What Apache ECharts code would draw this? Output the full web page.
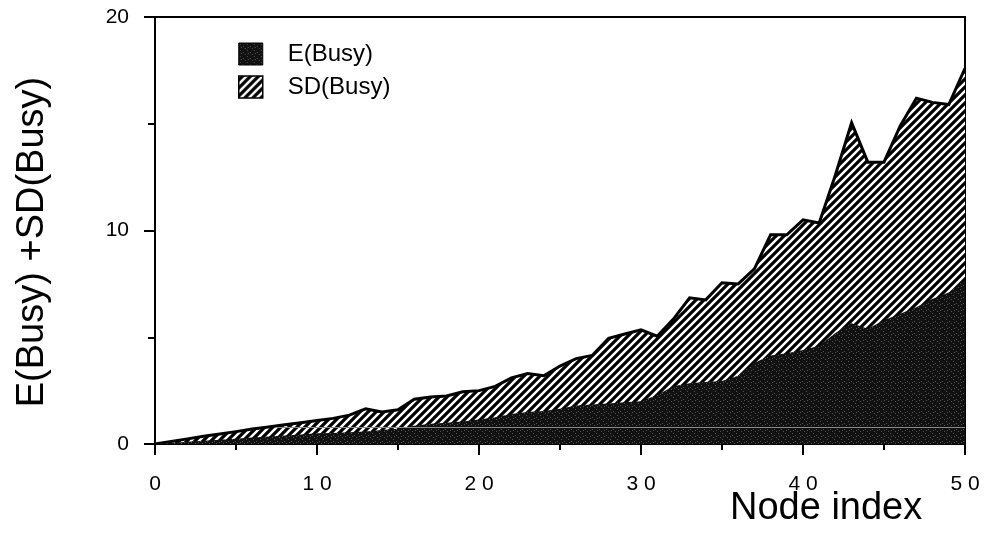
<!DOCTYPE html>
<html>
<head>
<meta charset="utf-8">
<script src="https://cdn.jsdelivr.net/npm/echarts@6/dist/echarts.min.js"></script>
<style>
  html, body { margin: 0; padding: 0; background: #fff; }
  #chart { width: 984px; height: 542px; }
</style>
</head>
<body>
<div id="chart"></div>
<script>
// ---- data ----
const nodeIndex = [0,1,2,3,4,5,6,7,8,9,10,11,12,13,14,15,16,17,18,19,20,21,22,23,24,25,26,27,28,29,30,31,32,33,34,35,36,37,38,39,40,41,42,43,44,45,46,47,48,49,50];
// E(Busy): top of the dark area
const eBusy = [0,0.05,0.10,0.15,0.20,0.25,0.30,0.35,0.40,0.45,0.50,0.52,0.55,0.58,0.65,0.72,0.85,0.95,1.00,1.05,1.15,1.25,1.40,1.50,1.55,1.65,1.80,1.85,1.90,1.95,2.00,2.30,2.70,2.85,2.90,2.95,3.20,3.80,4.15,4.25,4.40,4.60,5.20,5.65,5.40,5.80,6.10,6.40,6.80,7.10,7.70];
// E(Busy)+SD(Busy): top of the hatched area
const ePlusSdBusy = [0,0.12,0.24,0.36,0.47,0.58,0.70,0.80,0.90,1.00,1.10,1.20,1.35,1.65,1.50,1.60,2.10,2.20,2.25,2.45,2.50,2.70,3.10,3.30,3.20,3.65,4.00,4.15,4.95,5.15,5.35,5.05,5.85,6.85,6.75,7.55,7.50,8.20,9.80,9.80,10.50,10.35,12.60,15.05,13.20,13.20,14.90,16.20,16.00,15.90,17.60];
const seriesNames = ['E(Busy)', 'SD(Busy)'];
const xTicks = [0,10,20,30,40,50];
const yTicks = [0,10,20];
const faintLineLevel = 0.8;

// ---- fill patterns ----
function makeHatch() {
  const c = document.createElement('canvas');
  c.width = 8; c.height = 8;
  const g = c.getContext('2d');
  g.fillStyle = '#000'; g.fillRect(0,0,8,8);
  g.strokeStyle = '#fff'; g.lineWidth = 2.4; g.lineCap = 'butt';
  g.beginPath();
  g.moveTo(-2,10); g.lineTo(10,-2);
  g.moveTo(-2,2); g.lineTo(2,-2);
  g.moveTo(6,10); g.lineTo(10,6);
  g.stroke();
  return c;
}
function makeStipple() {
  const c = document.createElement('canvas');
  c.width = 7; c.height = 6;
  const g = c.getContext('2d');
  g.fillStyle = '#111'; g.fillRect(0,0,7,6);
  g.fillStyle = '#555';
  g.fillRect(1,1,1,1); g.fillRect(4,3,1,1); g.fillRect(6,5,1,1); g.fillRect(2,4,1,1);
  return c;
}
const hatch = { image: makeHatch(), repeat: 'repeat' };
const stipple = { image: makeStipple(), repeat: 'repeat' };

const chart = echarts.init(document.getElementById('chart'), null, { renderer: 'canvas' });
const font = '"Liberation Sans", Arial, Helvetica, sans-serif';

const option = {
  animation: false,
  backgroundColor: '#fff',
  grid: { left: 155, right: 19, top: 17, bottom: 98, show: true, borderColor: '#000', borderWidth: 2, backgroundColor: 'transparent' },
  legend: {
    orient: 'vertical', left: 238, top: 42, padding: 0,
    itemWidth: 24, itemHeight: 22, itemGap: 9,
    textStyle: { fontFamily: font, fontSize: 24, color: '#000', padding: [0,0,0,20] },
    data: [
      { name: seriesNames[0], icon: 'rect', itemStyle: { color: stipple, borderColor: '#000', borderWidth: 1 } },
      { name: seriesNames[1], icon: 'rect', itemStyle: { color: hatch, borderColor: '#000', borderWidth: 1.5 } }
    ]
  },
  xAxis: {
    type: 'value', min: 0, max: 50, interval: 10,
    axisLine: { show: true, onZero: false, lineStyle: { color: '#000', width: 2 } },
    axisTick: { show: true, length: 11, lineStyle: { color: '#000', width: 2 } },
    minorTick: { show: true, splitNumber: 2, length: 6, lineStyle: { color: '#000', width: 2 } },
    splitLine: { show: false },
    axisLabel: { margin: 30, fontFamily: font, fontSize: 21, color: '#000',
      formatter: v => String(v).split('').join(' ') }
  },
  yAxis: {
    type: 'value', min: 0, max: 20, interval: 10,
    axisLine: { show: true, lineStyle: { color: '#000', width: 2 } },
    axisTick: { show: true, length: 11, lineStyle: { color: '#000', width: 2 } },
    minorTick: { show: true, splitNumber: 2, length: 7, lineStyle: { color: '#000', width: 2 } },
    splitLine: { show: false },
    axisLabel: { margin: 26, fontFamily: font, fontSize: 21, color: '#000' }
  },
  graphic: [
    { type: 'text', x: 33, y: 242, rotation: Math.PI / 2,
      style: { text: 'E(Busy) +SD(Busy)', font: '38px ' + font, fill: '#000', align: 'center', verticalAlign: 'middle' } },
    { type: 'text', left: 730, top: 490,
      style: { text: 'Node index', font: '38px ' + font, fill: '#000' } }
  ],
  series: [
    {
      name: seriesNames[1], type: 'line', showSymbol: false, symbol: 'none',
      data: nodeIndex.map((x, i) => [x, ePlusSdBusy[i]]),
      lineStyle: { width: 3, color: '#000', join: 'miter' },
      itemStyle: { color: '#000' },
      areaStyle: { color: hatch, opacity: 1 },
      z: 1
    },
    {
      name: seriesNames[0], type: 'line', showSymbol: false, symbol: 'none',
      data: nodeIndex.map((x, i) => [x, eBusy[i]]),
      lineStyle: { width: 0, color: '#111' },
      itemStyle: { color: '#111' },
      areaStyle: { color: stipple, opacity: 1 },
      z: 2,
      markLine: {
        silent: true, symbol: 'none', label: { show: false },
        lineStyle: { color: '#8a8a8a', width: 1, type: 'solid' },
        data: [[{ coord: [7.5, faintLineLevel] }, { coord: [50, faintLineLevel] }]]
      }
    }
  ]
};
chart.setOption(option);
</script>
</body>
</html>
